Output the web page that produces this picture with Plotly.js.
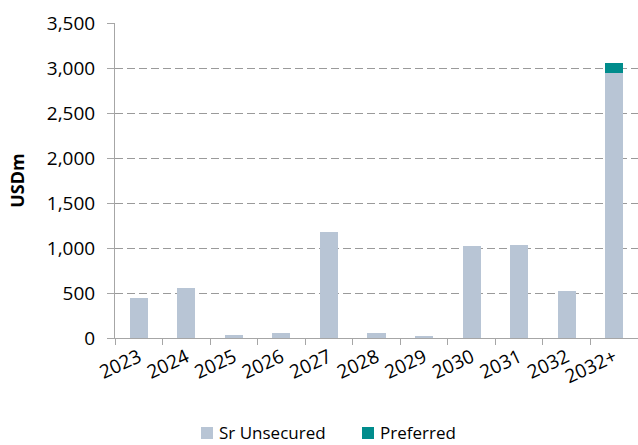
<!DOCTYPE html>
<html>
<head>
<meta charset="utf-8">
<script src="https://cdn.plot.ly/plotly-3.0.1.min.js"></script>
<style>html,body{margin:0;padding:0;background:#fff;}#chart{width:638px;height:445px;}</style>
</head>
<body>
<div id="chart"></div>
<script>
const years = ["2023","2024","2025","2026","2027","2028","2029","2030","2031","2032","2032+"];
const srUnsecured = [450, 555, 33, 52, 1175, 52, 22, 1018, 1030, 526, 2940];
const preferred = [0, 0, 0, 0, 0, 0, 0, 0, 0, 0, 120];
const yTicks = [0, 500, 1000, 1500, 2000, 2500, 3000, 3500];
const seriesNames = ["Sr Unsecured", "Preferred"];
const seriesColors = ["#B8C5D5", "#008C8C"];

const font = "'Open Sans', sans-serif";
const data = [
  {type: "bar", name: seriesNames[0], x: years, y: srUnsecured,
   marker: {color: seriesColors[0]}, width: 0.38, showlegend: false},
  {type: "bar", name: seriesNames[1], x: years, y: preferred,
   marker: {color: seriesColors[1]}, width: 0.38, showlegend: false}
];

// custom legend (swatch + label) placed below the plot, in paper coords
const L = 115, W = 523, T = 23, H = 315;
const px = v => (v - L) / W;
const py = v => (T + H - v) / H;
const legendX = [201, 362];
const shapes = [], annotations = [];
seriesNames.forEach((n, i) => {
  shapes.push({type: "rect", xref: "paper", yref: "paper",
    x0: px(legendX[i]), x1: px(legendX[i] + 12), y0: py(439), y1: py(427),
    fillcolor: seriesColors[i], line: {width: 0}});
  annotations.push({xref: "paper", yref: "paper", x: px(legendX[i] + 17), y: py(432),
    xanchor: "left", yanchor: "middle", showarrow: false, text: n, borderpad: 0,
    font: {size: 17, color: "#000"}});
});

const layout = {
  width: 638, height: 445,
  barmode: "stack",
  margin: {l: L, r: 0, t: T, b: 445 - T - H},
  paper_bgcolor: "#fff", plot_bgcolor: "#fff",
  font: {family: font, size: 19, color: "#000"},
  showlegend: false,
  shapes: shapes, annotations: annotations,
  xaxis: {type: "category", tickangle: -25, tickson: "boundaries",
          ticks: "outside", ticklen: 6, tickcolor: "#A6A6A6",
          showline: true, linecolor: "#A6A6A6", showgrid: false,
          tickfont: {size: 19}},
  yaxis: {range: [0, 3500], tickvals: yTicks, ticktext: yTicks.map(v => v.toLocaleString("en-US")),
          ticks: "outside", ticklen: 7, tickcolor: "#A6A6A6", ticklabelstandoff: 8,
          showline: true, linecolor: "#A6A6A6",
          showgrid: true, gridcolor: "#9A9A9A", griddash: "8px,4px", gridwidth: 1,
          zeroline: false, tickfont: {size: 19},
          title: {text: "<b>USDm</b>", font: {size: 18}, standoff: 17}}
};
Plotly.newPlot("chart", data, layout, {displayModeBar: false, staticPlot: true});
</script>
</body>
</html>
